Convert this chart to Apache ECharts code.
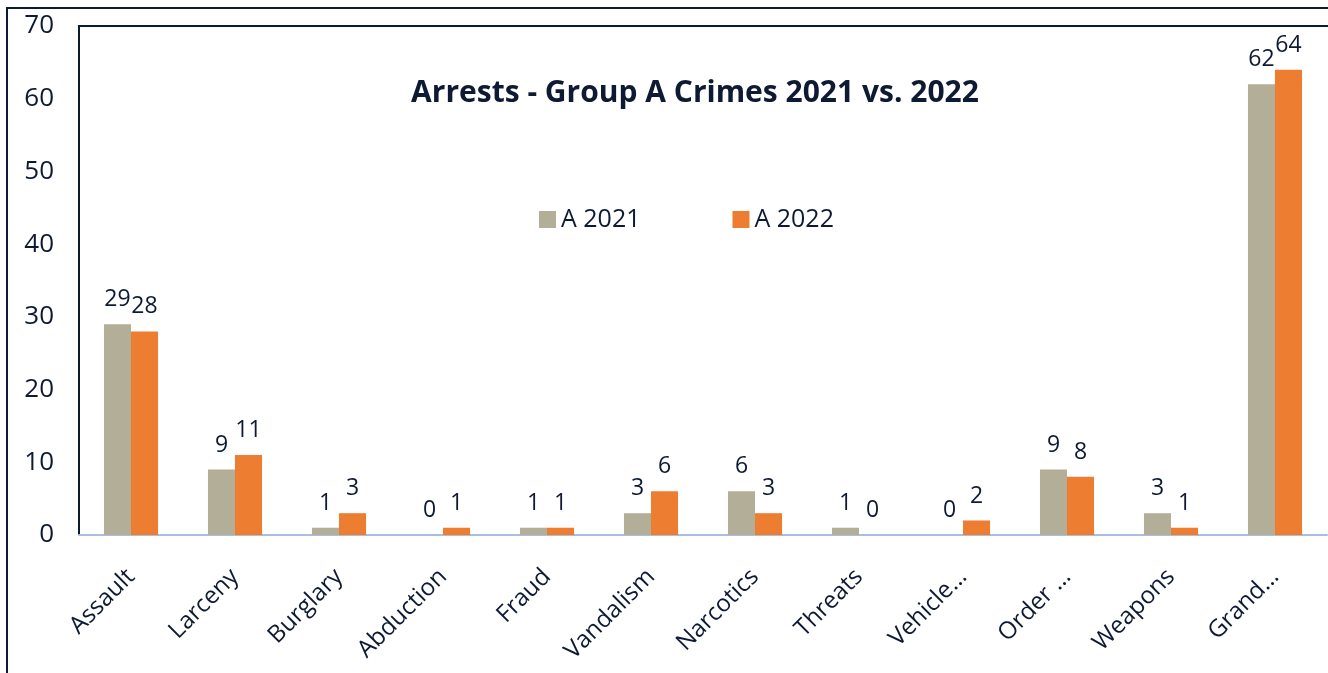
<!DOCTYPE html>
<html>
<head>
<meta charset="utf-8">
<script src="https://cdn.jsdelivr.net/npm/echarts@6/dist/echarts.min.js"></script>
<style>
  html, body { margin: 0; padding: 0; background: #fff; }
  #view { width: 1328px; height: 673px; }
</style>
</head>
<body>
<div id="view"></div>
<script>
var categories = ["Assault", "Larceny", "Burglary", "Abduction", "Fraud", "Vandalism", "Narcotics", "Threats", "Vehicle…", "Order …", "Weapons", "Grand…"];
var a2021 = [29, 9, 1, 0, 1, 3, 6, 1, 0, 9, 3, 62];
var a2022 = [28, 11, 3, 1, 1, 6, 3, 0, 2, 8, 1, 64];
var yTicks = [0, 10, 20, 30, 40, 50, 60, 70];

var ink = "#0e1a33";
var font = "Open Sans";

var option = {
  animation: false,
  textStyle: { fontFamily: font },
  title: {
    text: "Arrests - Group A Crimes 2021 vs. 2022",
    left: 690,
    textAlign: "center",
    top: 73,
    textStyle: { fontFamily: font, fontSize: 30, fontWeight: "bold", color: ink }
  },
  legend: {
    data: ["A 2021", "A 2022"],
    left: 534,
    top: 202,
    itemWidth: 17,
    itemHeight: 17,
    itemGap: 92,
    icon: "rect",
    textStyle: { fontFamily: font, fontSize: 25, color: ink }
  },
  // frame lines around the chart
  graphic: [
    {
      type: "rect",
      shape: { x: 7, y: 8, width: 1400, height: 800 },
      style: { fill: null, stroke: ink, lineWidth: 2 }
    },
    {
      type: "polyline",
      shape: { points: [[79, 535], [79, 26], [1400, 26]] },
      style: { fill: null, stroke: ink, lineWidth: 2 }
    }
  ],
  grid: {
    left: 79,
    right: 1,
    top: 26,
    bottom: 138
  },
  xAxis: {
    type: "category",
    data: categories,
    axisLine: { lineStyle: { color: "#a9bedc", width: 2 } },
    axisTick: { show: false },
    axisLabel: {
      rotate: 45,
      fontSize: 24,
      color: ink,
      margin: 38,
      interval: 0
    }
  },
  yAxis: {
    type: "value",
    min: yTicks[0],
    max: yTicks[yTicks.length - 1],
    interval: 10,
    splitLine: { show: false },
    axisLine: { show: false },
    axisLabel: { fontSize: 26, color: ink, margin: 25 }
  },
  series: [
    {
      name: "A 2021",
      type: "bar",
      data: a2021,
      barGap: "0%",
      barCategoryGap: "48%",
      itemStyle: { color: "#b3ae98" },
      label: { show: true, position: "top", distance: 13, fontSize: 23, color: ink }
    },
    {
      name: "A 2022",
      type: "bar",
      data: a2022,
      itemStyle: { color: "#ed7d31" },
      label: { show: true, position: "top", distance: 13, fontSize: 23, color: ink }
    }
  ]
};

echarts.init(document.getElementById("view")).setOption(option);
</script>
</body>
</html>
